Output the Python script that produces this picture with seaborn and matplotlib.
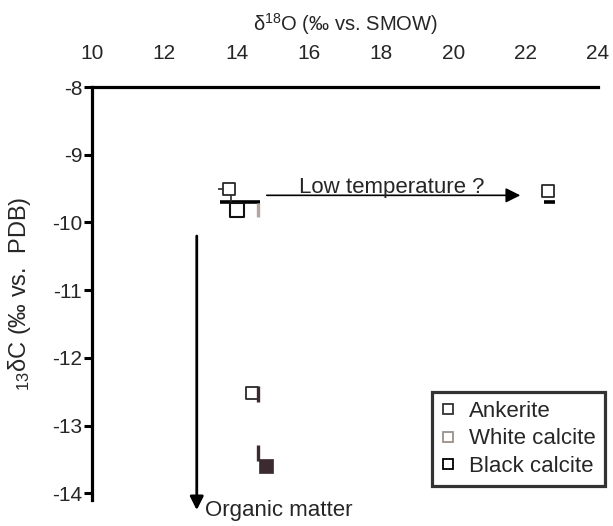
import pandas as pd
import seaborn as sns
import matplotlib.pyplot as plt
from matplotlib.lines import Line2D

# values: delta18O (x) and delta13C (y)
ankerite_o = [13.8, 22.62, 14.44]
ankerite_c = [-9.51, -9.54, -12.52]
black_open_o = [14.0]
black_open_c = [-9.82]
black_fill_o = [14.82]
black_fill_c = [-13.6]
white_bar_o = [14.6]
white_bar_c = [-9.82]
dark_bar_o = [14.6, 14.6]
dark_bar_c = [-12.54, -13.4]
stroke_c = [-9.7, -9.7]
stroke_o_from = [13.55, 22.5]
stroke_o_to = [14.65, 22.8]
# little whisker lines on the first ankerite point
whisker_o = [13.84]
whisker_c_from = [-9.6]
whisker_c_to = [-9.7]
cap_c = [-9.51]
cap_o_from = [13.5]
cap_o_to = [13.63]

x_ticks = [10, 12, 14, 16, 18, 20, 22, 24]
y_ticks = [-8, -9, -10, -11, -12, -13, -14]
legend_labels = ['Ankerite', 'White calcite', 'Black calcite']
legend_edges = ['#333333', '#9c8f8a', '#000000']

ANK = '#2a2a2a'
DARK = '#3b2a30'
BROWN = '#b5a59e'

sns.set_style('white')
plt.rcParams['font.family'] = ['Liberation Sans', 'DejaVu Sans']
plt.rcParams['mathtext.fontset'] = 'custom'
plt.rcParams['mathtext.rm'] = 'Liberation Sans'
plt.rcParams['mathtext.it'] = 'Liberation Sans'
plt.rcParams['axes.unicode_minus'] = False

fig = plt.figure(figsize=(6.13, 5.26), dpi=100)
ax = fig.add_axes([0.150, 0.0494, 0.8254, 0.7852])

ank = pd.DataFrame({'o': ankerite_o, 'c': ankerite_c})
blk = pd.DataFrame({'o': black_open_o, 'c': black_open_c})
blf = pd.DataFrame({'o': black_fill_o, 'c': black_fill_c})
wbar = pd.DataFrame({'o': white_bar_o, 'c': white_bar_c})
dbar = pd.DataFrame({'o': dark_bar_o, 'c': dark_bar_c})

ax.hlines(stroke_c, stroke_o_from, stroke_o_to, color='black', lw=2.6, zorder=2)
ax.vlines(whisker_o, whisker_c_from, whisker_c_to, color=ANK, lw=1.2, zorder=2)
ax.hlines(cap_c, cap_o_from, cap_o_to, color=ANK, lw=1.2, zorder=2)
sns.scatterplot(data=ank, x='o', y='c', ax=ax, marker='s', s=80, color='white',
                edgecolor=ANK, linewidth=1.3, legend=False, zorder=3)
sns.scatterplot(data=blk, x='o', y='c', ax=ax, marker='s', s=90, color='white',
                edgecolor='#111111', linewidth=1.5, legend=False, zorder=3)
sns.scatterplot(data=blf, x='o', y='c', ax=ax, marker='s', s=95, color=DARK,
                edgecolor=DARK, linewidth=0.5, legend=False, zorder=3)
sns.scatterplot(data=wbar, x='o', y='c', ax=ax, marker='|', s=110, color=BROWN,
                linewidth=2.4, legend=False, zorder=3)
sns.scatterplot(data=dbar, x='o', y='c', ax=ax, marker='|', s=120, color=DARK,
                linewidth=2.4, legend=False, zorder=3)

ax.set_xlim(10, 24)
ax.set_ylim(-14.1, -8)
ax.set_xticks(x_ticks)
ax.set_yticks(y_ticks)
ax.xaxis.tick_top()
ax.xaxis.set_label_position('top')
for side in ['right', 'bottom']:
    ax.spines[side].set_visible(False)
for side in ['top', 'left']:
    ax.spines[side].set_linewidth(2.3)
    ax.spines[side].set_color('black')
ax.tick_params(axis='x', length=0, pad=17, labelsize=15)
ax.tick_params(axis='y', left=True, length=6, width=2.2, pad=1, labelsize=15,
               direction='out', color='black')

ax.set_xlabel(r'δ$^{18}$O (‰ vs. SMOW)', fontsize=14.5, labelpad=10)
ax.set_ylabel(r'${}_{13}$δC (‰ vs.  PDB)', fontsize=17, labelpad=14)

# arrows and notes
ax.annotate('', xy=(21.93, -9.6), xytext=(14.76, -9.6),
            arrowprops=dict(arrowstyle='-|>', color='black', lw=1.2,
                            mutation_scale=22), annotation_clip=False)
ax.text(15.72, -9.57, 'Low temperature ?', fontsize=16, va='baseline')
ax.annotate('', xy=(12.9, -14.29), xytext=(12.9, -10.16),
            arrowprops=dict(arrowstyle='-|>', color='black', lw=2.0,
                            mutation_scale=20), annotation_clip=False)
ax.text(13.13, -14.33, 'Organic matter', fontsize=16, va='baseline', clip_on=False)

handles = [Line2D([], [], ls='none', marker='s', markersize=7, markerfacecolor='white',
                  markeredgecolor=e, markeredgewidth=1.3) for e in legend_edges]
leg = ax.legend(handles, legend_labels, loc='lower right', fontsize=16,
                bbox_to_anchor=(605 / 613, 1 - 486 / 526), bbox_transform=fig.transFigure,
                frameon=True, fancybox=False, borderaxespad=0, borderpad=0.4,
                labelspacing=0.3, handlelength=0.7, handletextpad=0.6)
leg.get_frame().set_edgecolor('black')
leg.get_frame().set_linewidth(2.3)

fig.savefig('out.png', dpi=100)
